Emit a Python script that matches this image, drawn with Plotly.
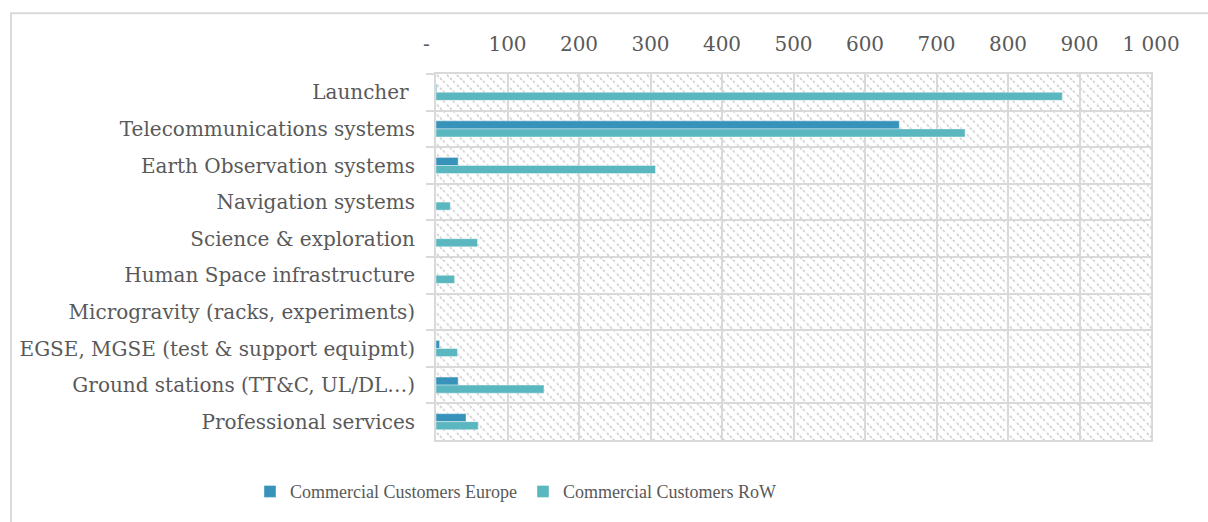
import base64
import plotly.graph_objects as go

# Commercial customer revenue by product segment
categories = [
    "Launcher\u00a0",
    "Telecommunications systems",
    "Earth Observation systems",
    "Navigation systems",
    "Science & exploration",
    "Human Space infrastructure",
    "Microgravity (racks, experiments)",
    "EGSE, MGSE (test & support equipmt)",
    "Ground stations (TT&C, UL/DL\u2026)",
    "Professional services",
]
europe = [1, 648, 31, 0, 0, 0, 0, 5, 31, 42]
rest_of_world = [876, 740, 307, 20, 58, 26, 0, 30, 151, 59]

tick_values = [0, 100, 200, 300, 400, 500, 600, 700, 800, 900, 1000]
tick_labels = ["-\u00a0\u00a0\u00a0", "100", "200", "300", "400", "500", "600", "700", "800", "900", "1\u00a0000"]

W, H = 1208, 522
ML, MR, MT, MB = 436, 57, 74, 80
PW, PH = W - ML - MR, H - MT - MB

LABEL_FONT = dict(family="DejaVu Serif", size=20, color="#595959")
GRID = "#d9d9d9"

# Diagonal hatch fill used as the plot-area background
svg = f"""<svg xmlns='http://www.w3.org/2000/svg' width='{PW}' height='{PH}' viewBox='0 0 {PW} {PH}' preserveAspectRatio='none'>
<defs><pattern id='h' patternUnits='userSpaceOnUse' width='10' height='10'>
<path d='M-2,-2 L12,12 M-2,8 L2,12 M8,-2 L12,2' stroke='#d0d0d0' stroke-width='1.7' stroke-dasharray='2.6 1.6'/>
</pattern></defs>
<rect width='{PW}' height='{PH}' fill='white'/>
<rect width='{PW}' height='{PH}' fill='url(#h)'/>
</svg>"""
hatch_uri = "data:image/svg+xml;base64," + base64.b64encode(svg.encode()).decode()

fig = go.Figure()
fig.add_trace(go.Bar(
    y=categories, x=europe, orientation="h", name="Commercial Customers Europe",
    marker=dict(color="#3893bb", line=dict(color="rgba(255,255,255,0.5)", width=0.8)),
))
fig.add_trace(go.Bar(
    y=categories, x=rest_of_world, orientation="h", name="Commercial Customers RoW",
    marker=dict(color="#5ab6bf", line=dict(color="rgba(255,255,255,0.5)", width=0.8)),
))

fig.update_layout(
    width=W, height=H,
    margin=dict(l=ML, r=MR, t=MT, b=MB, pad=0),
    paper_bgcolor="white",
    plot_bgcolor="rgba(0,0,0,0)",
    barmode="group",
    bargap=0.56,
    bargroupgap=0,
    font=LABEL_FONT,
    showlegend=True,
    legend=dict(
        orientation="h", x=(250 - ML) / PW, xanchor="left",
        y=(MT + PH - 494) / PH, yanchor="middle",
        font=dict(family="Liberation Serif", size=18, color="#595959"),
        entrywidth=228, entrywidthmode="pixels",
        traceorder="normal",
    ),
    images=[dict(
        source=hatch_uri, xref="paper", yref="paper", x=0, y=1,
        sizex=1, sizey=1, sizing="stretch", xanchor="left", yanchor="top",
        layer="below",
    )],
    shapes=[dict(
        type="rect", xref="paper", yref="paper",
        x0=(11 - ML) / PW, x1=1.2, y0=-0.5, y1=(MT + PH - 13) / PH,
        line=dict(color=GRID, width=2), fillcolor="rgba(0,0,0,0)", layer="below",
    )],
)

fig.update_xaxes(
    side="top", range=[0, 1000], tickvals=tick_values, ticktext=tick_labels,
    showgrid=True, gridcolor=GRID, gridwidth=2,
    showline=True, linecolor=GRID, linewidth=2, mirror=True,
    ticks="", ticklabelstandoff=13, zeroline=False,
    tickfont=LABEL_FONT,
)
fig.update_yaxes(
    autorange="reversed", type="category", tickson="boundaries",
    showgrid=True, gridcolor=GRID, gridwidth=2,
    showline=True, linecolor=GRID, linewidth=2, mirror=True,
    ticks="outside", ticklen=8, tickcolor=GRID, tickwidth=2,
    ticklabelstandoff=15, tickfont=LABEL_FONT,
)

fig.write_html("out.html")
